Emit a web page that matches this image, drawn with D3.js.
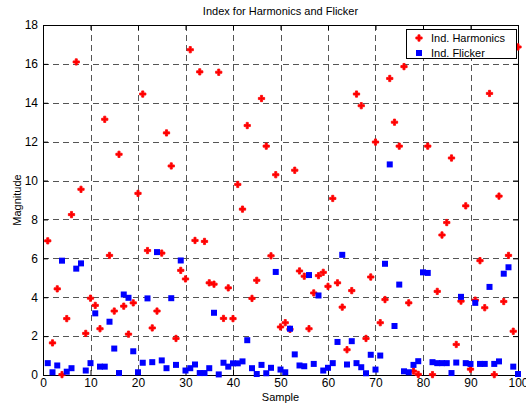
<!DOCTYPE html>
<html>
<head>
<meta charset="utf-8">
<script src="https://cdn.jsdelivr.net/npm/d3@7"></script>
<style>
  html, body { margin: 0; padding: 0; background: #fff; }
  svg { display: block; font-family: "Liberation Sans", Arial, Helvetica, sans-serif; }
</style>
</head>
<body>
<svg id="chart" width="526" height="407"></svg>
<script>
// Sample index 1..100
const samples = d3.range(1, 101);

// Individual harmonics index per sample
const harmonics = [
  6.9, 1.65, 4.43, 0.02, 2.9, 8.25, 16.1, 9.55, 2.14, 3.95,
  3.58, 2.38, 13.15, 6.15, 3.29, 11.35, 3.54, 2.1, 3.71, 9.34,
  14.45, 6.4, 2.42, 3.29, 6.27, 12.45, 10.75, 1.88, 5.38, 4.94,
  16.73, 6.92, 15.59, 6.87, 4.74, 4.67, 15.57, 2.91, 4.48, 2.9,
  9.8, 8.53, 12.83, 3.94, 4.87, 14.22, 11.77, 6.13, 10.3, 2.47,
  2.69, 2.35, 10.53, 5.35, 5.08, 2.38, 4.22, 5.11, 5.28, 4.56,
  9.08, 4.74, 3.49, 1.3, 4.34, 14.45, 13.85, 1.88, 5.04, 11.98,
  2.69, 3.88, 15.25, 13.0, 11.77, 15.86, 3.71, 0.2, 0.03, 17.0,
  11.77, 0.02, 4.3, 7.2, 7.84, 11.16, 1.57, 3.8, 8.7, 0.3,
  3.85, 5.88, 3.46, 14.48, 0.02, 9.2, 3.78, 6.15, 2.25, 16.87
];

// Individual flicker index per sample
const flicker = [
  0.61, 0.14, 0.49, 5.88, 0.17, 0.35, 5.47, 5.74, 0.23, 0.61,
  3.17, 0.43, 0.43, 2.74, 1.36, 0.1, 4.14, 3.97, 1.22, 0.14,
  0.63, 3.94, 0.66, 6.32, 0.75, 0.35, 3.95, 0.52, 5.89, 0.23,
  0.35, 0.54, 0.1, 0.1, 0.35, 3.2, 0.03, 0.63, 0.43, 0.6,
  0.6, 0.7, 1.79, 0.35, 0.05, 0.52, 0.09, 0.37, 5.3, 0.28,
  0.14, 2.38, 1.06, 0.49, 0.45, 5.14, 0.57, 4.09, 0.23, 0.37,
  0.61, 1.7, 6.18, 0.54, 1.74, 0.61, 0.4, 0.09, 1.04, 0.28,
  1.0, 5.72, 10.83, 2.52, 4.65, 0.19, 0.14, 0.52, 0.71, 5.28,
  5.25, 0.66, 0.61, 0.61, 0.61, 0.1, 0.64, 4.02, 0.61, 0.57,
  3.71, 0.57, 0.57, 4.53, 0.57, 0.7, 5.21, 5.54, 0.43, 0.05
];

const xTicks = d3.range(0, 101, 10);
const yTicks = d3.range(0, 19, 2);
const seriesNames = ["Ind. Harmonics", "Ind. Flicker"];

const svg = d3.select("#chart");
const plotLeft = 43, plotRight = 518, plotTop = 25, plotBottom = 375;

const x = d3.scaleLinear().domain([0, 100]).range([plotLeft, plotRight]);
const y = d3.scaleLinear().domain([0, 18]).range([plotBottom, plotTop]);

// Dashed grid
const grid = svg.append("g").attr("stroke", "#555").attr("stroke-width", 1)
  .attr("stroke-dasharray", "6,4").attr("shape-rendering", "crispEdges");
grid.selectAll(".gx").data(xTicks.slice(1, -1)).join("line")
  .attr("x1", d => Math.round(x(d)) + 0.5).attr("x2", d => Math.round(x(d)) + 0.5)
  .attr("y1", plotTop).attr("y2", plotBottom);
grid.selectAll(".gy").data(yTicks.slice(1, -1)).join("line")
  .attr("y1", d => Math.round(y(d)) + 0.5).attr("y2", d => Math.round(y(d)) + 0.5)
  .attr("x1", plotLeft).attr("x2", plotRight);

// Axes with inward ticks on all four sides
const axisStyle = g => {
  g.select(".domain").attr("stroke", "#000");
  g.selectAll(".tick line").attr("stroke", "#000");
  g.selectAll(".tick text").attr("fill", "#000").style("font-size", "12px");
};
svg.append("g").attr("transform", `translate(0,${plotBottom})`)
  .call(d3.axisBottom(x).tickValues(xTicks).tickSizeInner(-5).tickSizeOuter(0).tickPadding(3))
  .call(axisStyle);
svg.append("g").attr("transform", `translate(0,${plotTop})`)
  .call(d3.axisTop(x).tickValues(xTicks).tickSizeInner(-5).tickSizeOuter(0).tickFormat(""))
  .call(axisStyle);
svg.append("g").attr("transform", `translate(${plotLeft},0)`)
  .call(d3.axisLeft(y).tickValues(yTicks).tickSizeInner(-5).tickSizeOuter(0).tickPadding(5))
  .call(axisStyle);
svg.append("g").attr("transform", `translate(${plotRight},0)`)
  .call(d3.axisRight(y).tickValues(yTicks).tickSizeInner(-5).tickSizeOuter(0).tickFormat(""))
  .call(axisStyle);

// Red star markers for harmonics
const star = d3.symbol().type(d3.symbolCross).size(22);
svg.append("g").selectAll("path").data(samples).join("path")
  .attr("d", star)
  .attr("transform", (d, i) => `translate(${x(d)},${y(harmonics[i])})`)
  .attr("fill", "#ff0000").attr("stroke", "#ff0000").attr("stroke-width", 0.8)
  .attr("stroke-linejoin", "round");

// Blue square markers for flicker
const sq = 6;
svg.append("g").selectAll("rect").data(samples).join("rect")
  .attr("x", d => x(d) - sq / 2)
  .attr("y", (d, i) => y(flicker[i]) - sq / 2)
  .attr("width", sq).attr("height", sq)
  .attr("fill", "#0000ff");

// Legend
const lg = svg.append("g");
lg.append("rect").attr("x", 406.5).attr("y", 29.5).attr("width", 110).attr("height", 29)
  .attr("fill", "#fff").attr("stroke", "#000").attr("stroke-width", 1);
lg.append("path").attr("d", star).attr("transform", "translate(419,38)")
  .attr("fill", "#ff0000").attr("stroke", "#ff0000").attr("stroke-width", 0.8);
lg.append("rect").attr("x", 416).attr("y", 50).attr("width", sq).attr("height", sq).attr("fill", "#0000ff");
lg.selectAll("text").data(seriesNames).join("text")
  .attr("x", 431).attr("y", (d, i) => 42 + i * 14.5)
  .style("font-size", "11px").attr("fill", "#000").text(d => d);

// Title and axis labels
svg.append("text").attr("x", (plotLeft + plotRight) / 2).attr("y", 15).attr("text-anchor", "middle")
  .style("font-size", "11px").text("Index for Harmonics and Flicker");
svg.append("text").attr("x", (plotLeft + plotRight) / 2).attr("y", 401).attr("text-anchor", "middle")
  .style("font-size", "11px").text("Sample");
svg.append("text").attr("transform", `translate(21,${(plotTop + plotBottom) / 2}) rotate(-90)`)
  .attr("text-anchor", "middle").style("font-size", "11px").text("Magnitude");
</script>
</body>
</html>
